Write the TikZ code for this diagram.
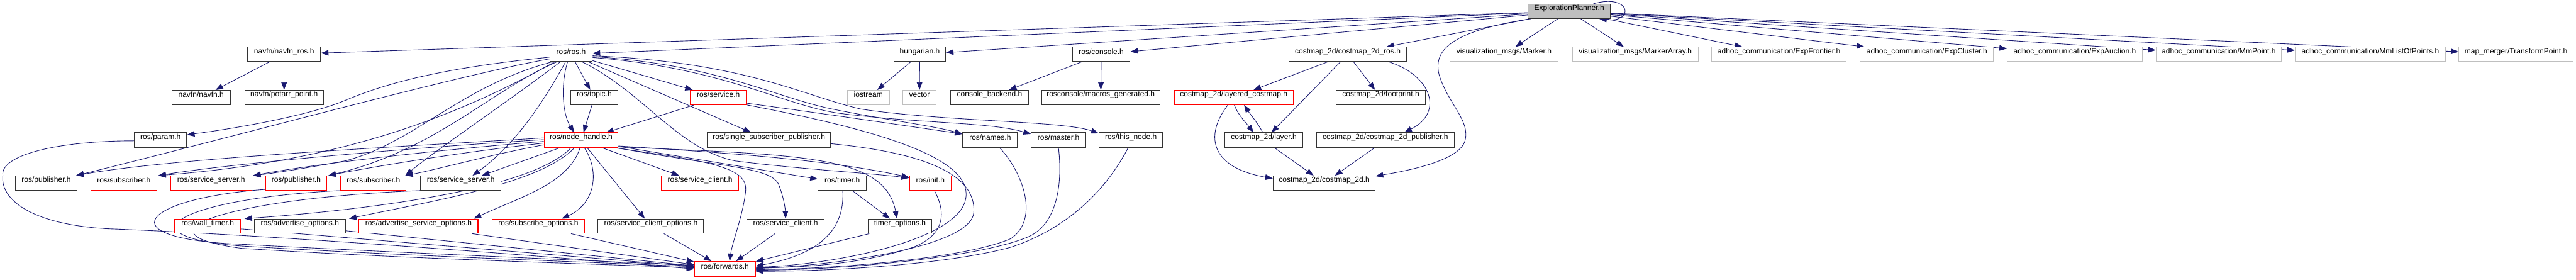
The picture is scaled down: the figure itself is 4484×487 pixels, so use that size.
\documentclass[tikz,border=0pt]{standalone}
\usepackage{fontspec}
\setmainfont{Liberation Sans}
\usetikzlibrary{arrows.meta,fit,calc,backgrounds}
\definecolor{edgec}{HTML}{191970}
\definecolor{redb}{HTML}{FF0000}
\definecolor{greyb}{HTML}{BFBFBF}
\tikzset{
 hbox/.style={draw=black!80, line width=0.65pt, fill=white, inner sep=0pt, rectangle, font=\fontsize{7.5}{9}\selectfont},
 trunc/.style={draw=redb},
 ext/.style={draw=greyb},
 cur/.style={fill=greyb},
 edg/.style={draw=edgec, line width=0.55pt, -{Triangle[length=7.5pt,width=5.5pt]}},
}
\newcommand{\bx}[7][]{\node[hbox,#1,fit={(#3,#4)(#5,#6)}] (#2) {#7};}
\begin{document}
\begin{tikzpicture}[x=0.02cm,y=-0.02cm]
\useasboundingbox (0,0) rectangle (4484,487);
% row 0
\bx[cur]{EP}{2660}{7}{2803}{32}{ExplorationPlanner.h}
% row 1
\bx{navros}{431}{82}{558}{107}{navfn/navfn\_ros.h}
\bx{ros}{957}{82}{1031}{107}{ros/ros.h}
\bx{hung}{1556}{82}{1646}{107}{hungarian.h}
\bx{cons}{1867}{82}{1967}{107}{ros/console.h}
\bx{cmros}{2244}{82}{2448}{107}{costmap\_2d/costmap\_2d\_ros.h}
\bx[ext]{marker}{2524}{82}{2712}{107}{visualization\_msgs/Marker.h}
\bx[ext]{markarr}{2737}{82}{2956}{107}{visualization\_msgs/MarkerArray.h}
\bx[ext]{expfr}{2979}{82}{3214}{107}{adhoc\_communication/ExpFrontier.h}
\bx[ext]{expcl}{3238}{82}{3470}{107}{adhoc\_communication/ExpCluster.h}
\bx[ext]{expau}{3494}{82}{3729}{107}{adhoc\_communication/ExpAuction.h}
\bx[ext]{mmpt}{3753}{82}{3971}{107}{adhoc\_communication/MmPoint.h}
\bx[ext]{mmlist}{3995}{82}{4257}{107}{adhoc\_communication/MmListOfPoints.h}
\bx[ext]{trpt}{4280}{82}{4479}{107}{map\_merger/TransformPoint.h}
% row 2
\bx{navfn}{299}{157}{401}{182}{navfn/navfn.h}
\bx{potarr}{426}{157}{563}{182}{navfn/potarr\_point.h}
\bx{topic}{993}{157}{1076}{182}{ros/topic.h}
\bx[trunc]{service}{1202}{157}{1299}{182}{ros/service.h}
\bx[ext]{iostream}{1475}{157}{1548}{182}{iostream}
\bx[ext]{vector}{1571}{157}{1630}{182}{vector}
\bx{cback}{1655}{157}{1790}{182}{console\_backend.h}
\bx{macros}{1813}{157}{2019}{182}{rosconsole/macros\_generated.h}
\bx[trunc]{lcost}{2044}{157}{2251}{182}{costmap\_2d/layered\_costmap.h}
\bx{foot}{2326}{157}{2481}{182}{costmap\_2d/footprint.h}
% row 3
\bx{param}{234}{231}{325}{257}{ros/param.h}
\bx[trunc]{nh}{947}{231}{1076}{257}{ros/node\_handle.h}
\bx{ssp}{1231}{231}{1446}{257}{ros/single\_subscriber\_publisher.h}
\bx{names}{1676}{231}{1771}{257}{ros/names.h}
\bx{master}{1795}{231}{1890}{257}{ros/master.h}
\bx{thisnode}{1913}{231}{2024}{257}{ros/this\_node.h}
\bx{layer}{2132}{231}{2268}{257}{costmap\_2d/layer.h}
\bx{cmpub}{2292}{231}{2531}{257}{costmap\_2d/costmap\_2d\_publisher.h}
% row 4
\bx{pub1}{27}{306}{134}{331}{ros/publisher.h}
\bx[trunc]{sub1}{158}{306}{273}{331}{ros/subscriber.h}
\bx[trunc]{ss1}{297}{306}{438}{331}{ros/service\_server.h}
\bx[trunc]{pub2}{462}{306}{569}{331}{ros/publisher.h}
\bx[trunc]{sub2}{593}{306}{707}{331}{ros/subscriber.h}
\bx{ss2}{732}{306}{872}{331}{ros/service\_server.h}
\bx[trunc]{sclient1}{1151}{306}{1286}{331}{ros/service\_client.h}
\bx{timer}{1424}{306}{1508}{331}{ros/timer.h}
\bx[trunc]{init}{1583}{306}{1656}{331}{ros/init.h}
\bx{cm2d}{2216}{306}{2394}{331}{costmap\_2d/costmap\_2d.h}
% row 5
\bx[trunc]{walltimer}{304}{381}{419}{406}{ros/wall\_timer.h}
\bx{advopt}{443}{381}{601}{406}{ros/advertise\_options.h}
\bx[trunc]{advsrv}{625}{381}{832}{406}{ros/advertise\_service\_options.h}
\bx[trunc]{subopt}{857}{381}{1017}{406}{ros/subscribe\_options.h}
\bx{scopt}{1041}{381}{1225}{406}{ros/service\_client\_options.h}
\bx{sclient2}{1300}{381}{1435}{406}{ros/service\_client.h}
\bx{timopt}{1511}{381}{1622}{406}{timer\_options.h}
% row 6
\bx[trunc]{fwd}{1209}{455}{1315}{481}{ros/forwards.h}

\begin{scope}[on background layer]
% ExplorationPlanner.h
\foreach \t in {navros,ros,hung,cons,cmros,marker,markarr,expfr,expcl,expau,mmpt,mmlist,trpt}
  \draw[edg] (EP) -- (\t);
\draw[edg] ($(EP.north east)+(-30,0)$) .. controls (2840,-12) and (2845,40) .. ($(EP.south east)+(-20,0)$);
\draw[edg] ($(EP.south west)+(5,0)$) .. controls (2520,55) and (2495,90) .. (2505,130)
  .. controls (2520,180) and (2560,210) .. (2550,245)
  .. controls (2540,280) and (2450,297) .. ($(cm2d.north east)+(0,1)$);
% simple includes
\draw[edg] (navros) -- (navfn);
\draw[edg] (navros) -- (potarr);
\draw[edg] (hung) -- (iostream);
\draw[edg] (hung) -- (vector);
\draw[edg] (cons) -- (cback);
\draw[edg] (cons) -- (macros);
% costmap
\draw[edg] (cmros) -- (lcost);
\draw[edg] (cmros) -- (layer);
\draw[edg] (cmros) -- (foot);
\draw[edg] ($(cmros.south)+(71,0)$) .. controls (2490,130) and (2515,195) .. ($(cmpub.north)+(33,0)$);
\draw[edg] ($(lcost.south)+(1,0)$) .. controls (2155,200) and (2170,215) .. ($(layer.north)+(-18,0)$);
\draw[edg] ($(layer.north)+(-2,0)$) .. controls (2190,215) and (2175,197) .. ($(lcost.south)+(18,0)$);
\draw[edg] ($(lcost.south)+(-10,0)$) .. controls (2100,230) and (2100,290) .. ($(cm2d.west)+(0,-8)$);
\draw[edg] (layer) -- (cm2d);
\draw[edg] (cmpub) -- (cm2d);
% ros.h
\draw[edg] (ros) -- (topic);
\draw[edg] (ros) -- (service);
\draw[edg] (ros) -- (ssp);
\draw[edg] (topic) -- (nh);
\draw[edg] (service) -- (nh);
\draw[edg] ($(ros.south)+(-6,0)$) .. controls (975,150) and (980,200) .. ($(nh.north)+(-12,0)$);
\draw[edg] ($(ros.west)+(0,5)$) .. controls (750,120) and (660,150) .. (600,175)
  .. controls (540,200) and (420,222) .. ($(param.north east)+(0,4)$);
\draw[edg] ($(ros.west)+(0,8)$) .. controls (800,130) and (400,240) .. ($(pub1.north east)+(-2,0)$);
\draw[edg] ($(ros.south west)+(9,0)$) .. controls (800,200) and (600,280) .. ($(sub1.north east)+(2,0)$);
\draw[edg] ($(ros.south west)+(5,0)$) .. controls (800,150) and (720,250) .. (600,280)
  .. controls (520,295) and (470,302) .. ($(ss1.north east)+(2,0)$);
\draw[edg] ($(ros.south west)+(13,0)$) .. controls (850,160) and (760,260) .. ($(pub2.north east)+(2,0)$);
\draw[edg] ($(ros.south west)+(19,0)$) .. controls (880,180) and (760,260) .. ($(sub2.north east)+(-2,0)$);
\draw[edg] ($(ros.south west)+(28,0)$) .. controls (950,170) and (900,250) .. ($(ss2.north east)+(-50,0)$);
\draw[edg] ($(ros.south)+(19,0)$) .. controls (1120,160) and (1180,260) .. (1280,280)
  .. controls (1400,295) and (1500,300) .. ($(init.west)+(0,-9)$);
\draw[edg] ($(ros.east)+(0,4)$) .. controls (1250,112) and (1350,170) .. (1450,190)
  .. controls (1550,210) and (1620,218) .. ($(names.west)+(0,-11)$);
\draw[edg] ($(ros.east)+(0,5.5)$) .. controls (1260,118) and (1360,182) .. (1460,197)
  .. controls (1600,215) and (1720,212) .. ($(master.west)+(0,-11)$);
\draw[edg] ($(ros.east)+(0,2.5)$) .. controls (1300,108) and (1400,168) .. (1500,190)
  .. controls (1650,212) and (1850,210) .. ($(thisnode.west)+(0,-12)$);
% node_handle.h
\draw[edg] (nh) -- (ss2);
\draw[edg] (nh) -- (sclient1);
\draw[edg] (nh) -- (timer);
\draw[edg] (nh) -- (scopt);
\draw[edg] ($(nh.west)+(0,-4)$) .. controls (700,255) and (300,275) .. ($(pub1.north east)+(-2,0)$);
\draw[edg] ($(nh.west)+(0,-1)$) .. controls (700,258) and (400,285) .. ($(sub1.north east)+(2,0)$);
\draw[edg] ($(nh.west)+(0,2)$) .. controls (750,262) and (550,285) .. ($(ss1.north east)+(2,0)$);
\draw[edg] ($(nh.west)+(0,5)$) .. controls (800,265) and (650,290) .. ($(pub2.north east)+(2,0)$);
\draw[edg] ($(nh.west)+(0,8)$) .. controls (850,270) and (760,295) .. ($(sub2.north east)+(-2,0)$);
\draw[edg] ($(nh.east)+(0,10)$) .. controls (1300,268) and (1450,280) .. ($(init.west)+(0,-10)$);
\draw[edg] ($(nh.south east)+(0,-2)$) .. controls (1400,270) and (1540,270) .. ($(timopt.north)+(-5,0)$);
\draw[edg] ($(nh.south east)+(0,0)$) .. controls (1250,290) and (1340,290) .. (1355,320)
  .. controls (1365,345) and (1367,365) .. (sclient2.north);
\draw[edg] ($(nh.south east)+(-4,0)$) .. controls (1230,280) and (1300,290) .. (1298,330)
  .. controls (1295,370) and (1275,420) .. ($(fwd.north)+(8,0)$);
\draw[edg] ($(nh.south)+(6,0)$) .. controls (1045,300) and (1035,355) .. ($(subopt.north east)+(-40,0)$);
\draw[edg] ($(nh.south)+(-2,0)$) .. controls (990,320) and (900,345) .. ($(advsrv.north east)+(-8,0)$);
\draw[edg] ($(nh.south)+(-12,0)$) .. controls (940,320) and (750,350) .. ($(advopt.north east)+(6,0)$);
\draw[edg] ($(nh.south)+(-18,0)$) .. controls (920,335) and (600,368) .. ($(walltimer.north east)+(6,0)$);
% service.h
\draw[edg] ($(service.east)+(0,10)$) .. controls (1450,200) and (1550,215) .. ($(names.west)+(0,-11)$);
\draw[edg] ($(service.east)+(0,13)$) .. controls (1550,230) and (1700,280) .. (1680,350)
  .. controls (1660,420) and (1450,460) .. ($(fwd.east)+(0,-3)$);
% to forwards from the right
\draw[edg] ($(ssp.east)+(0,6)$) .. controls (1600,265) and (1700,300) .. (1695,370)
  .. controls (1690,430) and (1450,462) .. ($(fwd.east)+(0,-1)$);
\draw[edg] ($(names.south)+(17,0)$) .. controls (1780,300) and (1810,380) .. (1760,415)
  .. controls (1680,450) and (1450,468) .. ($(fwd.east)+(0,1)$);
\draw[edg] (master.south) .. controls (1850,320) and (1840,390) .. (1790,412)
  .. controls (1700,450) and (1450,470) .. ($(fwd.east)+(0,2)$);
\draw[edg] ($(thisnode.south)+(-5,0)$) .. controls (1920,340) and (1850,400) .. (1760,430)
  .. controls (1650,460) and (1450,472) .. ($(fwd.east)+(0,4)$);
\draw[edg] ($(init.south)+(7,0)$) .. controls (1650,375) and (1640,410) .. (1590,430)
  .. controls (1500,460) and (1400,465) .. ($(fwd.east)+(0,-2)$);
\draw[edg] ($(timer.south)+(1,0)$) .. controls (1470,390) and (1440,440) .. ($(fwd.east)+(0,-5)$);
\draw[edg] (timer) -- (timopt);
\draw[edg] (timopt) -- (fwd);
\draw[edg] (sclient2) -- (fwd);
\draw[edg] (scopt) -- (fwd);
\draw[edg] (subopt) -- (fwd);
\draw[edg] (advsrv) -- (fwd);
\draw[edg] (advopt) -- (fwd);
\draw[edg] (walltimer) -- (fwd);
% to forwards from the left, looping round
\draw[edg] ($(pub2.south west)+(0,-2)$) .. controls (250,345) and (180,415) .. (420,425)
  .. controls (700,440) and (1000,452) .. ($(fwd.west)+(0,-6)$);
\draw[edg] (sub2.south west) .. controls (320,345) and (200,410) .. (420,428)
  .. controls (700,445) and (1000,455) .. ($(fwd.west)+(0,-4)$);
\draw[edg] (ss2.south west) .. controls (400,345) and (220,405) .. (420,432)
  .. controls (700,450) and (1000,458) .. ($(fwd.west)+(0,-2)$);
\draw[edg] ($(param.west)+(0,1)$) .. controls (100,245) and (0,270) .. (5,305)
  .. controls (0,345) and (50,390) .. (187,398)
  .. controls (500,410) and (1000,450) .. (fwd.west);
\end{scope}
\end{tikzpicture}
\end{document}
